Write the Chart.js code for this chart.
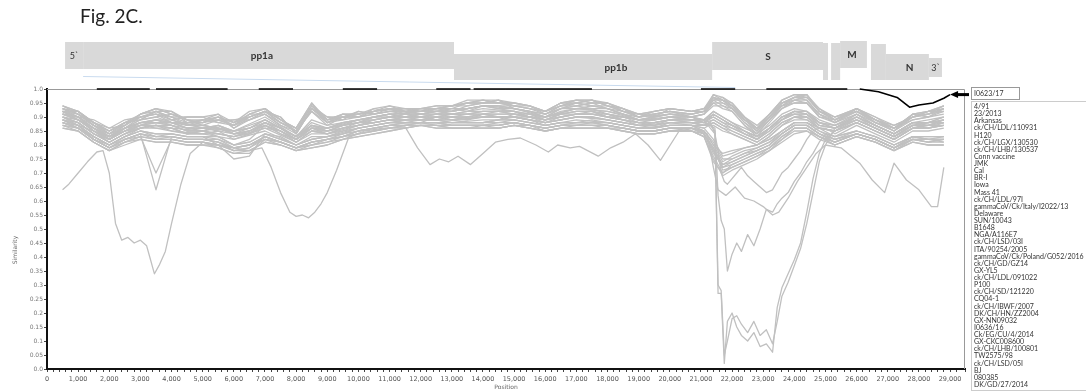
<!DOCTYPE html>
<html>
<head>
<meta charset="utf-8">
<script src="https://cdn.jsdelivr.net/npm/chart.js@4.4.0/dist/chart.umd.min.js"></script>
<style>
  body { margin: 0; background: #fff; overflow: hidden; }
  #wrap { position: relative; width: 1086px; height: 392px; overflow: hidden; }
  #plot { position: absolute; left: 0; top: 0; }
  #fig { position: absolute; left: 80px; top: 6px; font: 19px/19px Lato, sans-serif; color: #222; }
  .key { position: absolute; box-sizing: border-box; font: 7px Lato, sans-serif; color: #333; white-space: nowrap; }
  #refKey { left: 971px; top: 87px; width: 49px; height: 13px; line-height: 11px; padding-left: 2px; border: 1px solid #999; }
  #nameKey { left: 971px; top: 101px; width: 140px; height: 290px; padding: 1px 0 0 2px; line-height: 7.13px; border: 1px solid #ccc; }
</style>
</head>
<body>
<div id="wrap">
  <canvas id="plot" width="1086" height="392"></canvas>
  <div id="fig">Fig. 2C.</div>
  <div id="refKey" class="key">I0623/17</div>
  <div id="nameKey" class="key"></div>
</div>
<script>
// query strain (drawn in black)
const refName = 'I0623/17';
const refPos = [1600, 3300, 3400, 3500, 5800, 6300, 6800, 7900, 8700, 9500, 10600, 11500, 12500, 13600, 13650, 13700, 17500, 19000, 21000, 22100, 22600, 23100, 25700, 25900, 26100, 26700, 27300, 27700, 28000, 28450, 28800, 29000];
const refSim = [1, 1, null, 1, 1, null, 1, 1, null, 1, 1, null, 1, 1, null, 1, 1, null, 1, 1, null, 1, 1, null, 1, 0.99, 0.97, 0.935, 0.943, 0.95, 0.967, 0.98];

// reference strains, in the order of the key
const strainNames = ['4/91', '23/2013', 'Arkansas', 'ck/CH/LDL/110931', 'H120', 'ck/CH/LGX/130530', 'ck/CH/LHB/130537',
  'Conn vaccine', 'JMK', 'Cal', 'BR-I', 'Iowa', 'Mass 41', 'ck/CH/LDL/97I', 'gammaCoV/Ck/Italy/I2022/13', 'Delaware',
  'SUN/10043', 'B1648', 'NGA/A116E7', 'ck/CH/LSD/03I', 'ITA/90254/2005', 'gammaCoV/Ck/Poland/G052/2016', 'ck/CH/GD/GZ14',
  'GX-YL5', 'ck/CH/LDL/091022', 'P100', 'ck/CH/SD/121220', 'CQ04-1', 'ck/CH/IBWF/2007', 'DK/CH/HN/ZZ2004', 'GX-NN09032',
  'I0636/16', 'Ck/EG/CU/4/2014', 'GX-CKC008600', 'ck/CH/LHB/100801', 'TW2575/98', 'ck/CH/LSD/05I', 'BJ', '080385', 'DK/GD/27/2014'];

// window positions shared by most strains
const bandPos = [500, 1000, 1500, 2000, 2500, 3000, 3500, 4000,
  4500, 5000, 5500, 6000, 6500, 7000, 7500, 8000, 8500, 9000, 9500,
  10000, 10500, 11000, 11500, 12000, 12500, 13000, 13500, 14000, 14500, 15000, 15500, 16000, 16500, 17000, 17500, 18000, 18500, 19000, 19500, 20000, 20700,
  21100, 21400, 21700, 22000, 22400, 22800, 23200, 23600, 24000, 24400, 24800,
  25300, 26000, 26600, 27200, 27800, 28300, 28800];

const upperRows = [
  [0.93,0.91,0.88,0.85,0.88,0.90,0.92,0.90, 0.88,0.89,0.90,0.88,0.90,0.92,0.88,0.85,0.94,0.89,0.90, 0.91,0.92,0.93,0.92,0.92,0.93,0.92,0.94,0.95,0.95,0.94,0.93,0.92,0.95,0.95,0.96,0.94,0.92,0.90,0.91,0.92,0.91, 0.92,0.97,0.96,0.94,0.89,0.85,0.90,0.95,0.97,0.98,0.92, 0.89,0.93,0.89,0.86,0.90,0.91,0.93],
  [0.94,0.92,0.87,0.84,0.87,0.91,0.93,0.91, 0.89,0.88,0.89,0.87,0.91,0.93,0.89,0.86,0.95,0.88,0.91, 0.90,0.93,0.92,0.93,0.93,0.94,0.94,0.96,0.96,0.95,0.95,0.94,0.91,0.94,0.96,0.95,0.95,0.93,0.91,0.90,0.93,0.92, 0.93,0.98,0.97,0.95,0.90,0.86,0.91,0.96,0.98,0.97,0.93, 0.90,0.92,0.88,0.85,0.91,0.92,0.94],
  [0.92,0.90,0.89,0.86,0.89,0.90,0.91,0.89, 0.90,0.90,0.88,0.89,0.89,0.91,0.87,0.84,0.93,0.90,0.89, 0.92,0.91,0.93,0.91,0.92,0.93,0.93,0.92,0.94,0.94,0.93,0.92,0.90,0.93,0.94,0.93,0.93,0.91,0.89,0.90,0.91,0.90, 0.91,0.95,0.95,0.93,0.88,0.84,0.89,0.94,0.96,0.96,0.91, 0.88,0.93,0.90,0.86,0.89,0.90,0.92],
  [0.93,0.92,0.88,0.84,0.86,0.89,0.92,0.92, 0.88,0.89,0.91,0.86,0.90,0.92,0.89,0.85,0.92,0.87,0.90, 0.91,0.93,0.94,0.92,0.91,0.92,0.93,0.95,0.95,0.96,0.93,0.92,0.91,0.93,0.95,0.94,0.94,0.92,0.90,0.91,0.92,0.91, 0.92,0.96,0.94,0.92,0.87,0.83,0.88,0.93,0.95,0.95,0.90, 0.89,0.92,0.89,0.85,0.90,0.91,0.92],
  [0.92,0.91,0.87,0.83,0.87,0.90,0.91,0.90, 0.87,0.88,0.90,0.88,0.91,0.91,0.88,0.86,0.94,0.88,0.90, 0.90,0.91,0.92,0.92,0.93,0.92,0.92,0.93,0.94,0.94,0.94,0.93,0.92,0.94,0.94,0.95,0.93,0.92,0.91,0.92,0.93,0.92, 0.93,0.97,0.96,0.93,0.89,0.86,0.91,0.95,0.96,0.97,0.92, 0.89,0.93,0.88,0.86,0.91,0.90,0.93],
  [0.94,0.91,0.88,0.85,0.88,0.91,0.93,0.91, 0.89,0.87,0.89,0.87,0.90,0.92,0.90,0.84,0.93,0.89,0.91, 0.91,0.92,0.93,0.93,0.92,0.93,0.94,0.94,0.95,0.95,0.95,0.94,0.92,0.95,0.96,0.96,0.94,0.93,0.90,0.91,0.92,0.90, 0.91,0.96,0.97,0.94,0.90,0.85,0.90,0.94,0.97,0.96,0.91, 0.88,0.92,0.89,0.87,0.90,0.92,0.93],
  [0.93,0.90,0.86,0.84,0.88,0.89,0.92,0.89, 0.87,0.89,0.88,0.87,0.89,0.91,0.87,0.85,0.92,0.88,0.89, 0.90,0.91,0.92,0.91,0.91,0.92,0.92,0.93,0.94,0.94,0.93,0.92,0.91,0.94,0.95,0.94,0.93,0.91,0.89,0.90,0.91,0.91, 0.92,0.95,0.93,0.92,0.87,0.84,0.89,0.93,0.96,0.95,0.90, 0.88,0.91,0.88,0.85,0.89,0.90,0.91],
  [0.92,0.92,0.88,0.86,0.87,0.91,0.92,0.90, 0.90,0.90,0.91,0.88,0.92,0.93,0.89,0.86,0.94,0.90,0.90, 0.91,0.92,0.93,0.93,0.93,0.93,0.94,0.95,0.95,0.96,0.94,0.93,0.91,0.93,0.94,0.95,0.95,0.92,0.91,0.91,0.92,0.91, 0.92,0.97,0.95,0.94,0.89,0.86,0.90,0.95,0.97,0.97,0.92, 0.90,0.93,0.89,0.86,0.90,0.91,0.94],
  [0.93,0.91,0.87,0.84,0.86,0.90,0.91,0.88, 0.88,0.88,0.90,0.86,0.89,0.92,0.88,0.85,0.93,0.88,0.90, 0.90,0.92,0.93,0.92,0.93,0.94,0.94,0.95,0.96,0.95,0.94,0.94,0.92,0.94,0.95,0.96,0.94,0.93,0.90,0.92,0.93,0.92, 0.93,0.96,0.96,0.95,0.90,0.87,0.91,0.96,0.98,0.98,0.93, 0.89,0.92,0.88,0.86,0.91,0.91,0.93],
  [0.91,0.90,0.87,0.85,0.88,0.89,0.90,0.91, 0.89,0.89,0.89,0.89,0.90,0.92,0.90,0.84,0.93,0.89,0.90, 0.92,0.91,0.92,0.92,0.91,0.92,0.93,0.93,0.94,0.93,0.93,0.92,0.90,0.93,0.93,0.94,0.93,0.91,0.89,0.90,0.91,0.90, 0.91,0.94,0.94,0.93,0.88,0.85,0.89,0.94,0.95,0.95,0.91, 0.89,0.93,0.90,0.87,0.90,0.92,0.92],
  [0.94,0.92,0.88,0.85,0.87,0.91,0.93,0.92, 0.89,0.88,0.90,0.87,0.91,0.93,0.89,0.86,0.95,0.89,0.91, 0.91,0.92,0.94,0.93,0.92,0.93,0.94,0.95,0.96,0.96,0.95,0.94,0.92,0.95,0.96,0.96,0.95,0.93,0.91,0.92,0.93,0.92, 0.92,0.98,0.96,0.94,0.89,0.86,0.90,0.95,0.97,0.98,0.92, 0.90,0.93,0.89,0.86,0.91,0.92,0.94]
];

const middleRows = [
  [0.91,0.89,0.85,0.82,0.85,0.87,0.88,0.87, 0.85,0.86,0.85,0.84,0.84,0.88,0.85,0.82,0.86,0.85,0.87, 0.88,0.89,0.90,0.89,0.90,0.91,0.90,0.90,0.91,0.91,0.91,0.90,0.89,0.90,0.91,0.92,0.90,0.89,0.88,0.88,0.89,0.89, 0.88,0.90,0.88,0.86,0.84,0.82,0.85,0.89,0.91,0.91,0.87, 0.86,0.89,0.86,0.83,0.87,0.87,0.88],
  [0.90,0.88,0.84,0.81,0.84,0.86,0.87,0.86, 0.84,0.85,0.84,0.83,0.85,0.87,0.84,0.81,0.85,0.84,0.86, 0.87,0.88,0.89,0.89,0.89,0.90,0.89,0.89,0.90,0.90,0.90,0.89,0.88,0.89,0.90,0.90,0.89,0.88,0.87,0.87,0.88,0.88, 0.87,0.89,0.87,0.85,0.83,0.81,0.84,0.88,0.90,0.90,0.86, 0.85,0.88,0.85,0.82,0.86,0.86,0.87],
  [0.92,0.90,0.86,0.83,0.86,0.88,0.89,0.88, 0.86,0.87,0.86,0.85,0.86,0.89,0.86,0.83,0.87,0.86,0.88, 0.89,0.90,0.91,0.90,0.91,0.91,0.92,0.93,0.94,0.93,0.92,0.90,0.90,0.92,0.93,0.93,0.91,0.90,0.89,0.89,0.90,0.89, 0.89,0.92,0.90,0.88,0.86,0.84,0.87,0.91,0.93,0.92,0.89, 0.87,0.91,0.87,0.84,0.88,0.88,0.90],
  [0.90,0.87,0.85,0.82,0.85,0.86,0.87,0.85, 0.84,0.84,0.85,0.82,0.84,0.86,0.85,0.82,0.86,0.84,0.86, 0.87,0.89,0.90,0.90,0.89,0.90,0.90,0.89,0.91,0.91,0.91,0.90,0.89,0.90,0.91,0.91,0.90,0.89,0.88,0.87,0.89,0.88, 0.87,0.88,0.86,0.84,0.82,0.80,0.83,0.87,0.89,0.89,0.86, 0.85,0.89,0.86,0.83,0.87,0.86,0.88],
  [0.91,0.90,0.85,0.81,0.84,0.87,0.88,0.88, 0.86,0.86,0.86,0.84,0.85,0.88,0.85,0.82,0.87,0.85,0.87, 0.88,0.89,0.90,0.90,0.90,0.89,0.90,0.91,0.91,0.90,0.90,0.89,0.88,0.90,0.91,0.91,0.90,0.89,0.87,0.88,0.89,0.89, 0.88,0.91,0.89,0.87,0.85,0.82,0.86,0.90,0.92,0.91,0.88, 0.86,0.90,0.86,0.83,0.87,0.87,0.89],
  [0.92,0.89,0.86,0.82,0.85,0.88,0.88,0.87, 0.85,0.85,0.87,0.84,0.86,0.89,0.86,0.83,0.86,0.86,0.87, 0.88,0.90,0.91,0.90,0.90,0.91,0.91,0.92,0.92,0.92,0.91,0.90,0.89,0.91,0.92,0.92,0.91,0.90,0.88,0.89,0.90,0.89, 0.89,0.92,0.90,0.88,0.85,0.83,0.86,0.90,0.92,0.92,0.88, 0.87,0.90,0.87,0.84,0.88,0.88,0.89],
  [0.90,0.88,0.84,0.82,0.86,0.87,0.86,0.86, 0.84,0.85,0.83,0.80,0.82,0.87,0.84,0.82,0.85,0.85,0.86, 0.87,0.88,0.89,0.88,0.88,0.90,0.89,0.88,0.88,0.89,0.91,0.90,0.88,0.89,0.90,0.90,0.89,0.88,0.87,0.87,0.88,0.88, 0.87,0.87,0.85,0.84,0.82,0.80,0.83,0.87,0.90,0.90,0.86, 0.85,0.88,0.85,0.82,0.86,0.87,0.87],
  [0.91,0.89,0.85,0.83,0.85,0.87,0.89,0.87, 0.86,0.86,0.87,0.85,0.86,0.88,0.86,0.83,0.87,0.85,0.87, 0.88,0.90,0.90,0.91,0.90,0.90,0.91,0.91,0.91,0.92,0.92,0.90,0.89,0.91,0.91,0.91,0.91,0.89,0.88,0.88,0.89,0.89, 0.88,0.91,0.89,0.87,0.84,0.82,0.86,0.89,0.92,0.91,0.87, 0.86,0.89,0.86,0.83,0.87,0.88,0.88],
  [0.89,0.88,0.84,0.81,0.84,0.86,0.87,0.86, 0.84,0.84,0.84,0.83,0.84,0.87,0.85,0.81,0.85,0.84,0.85, 0.87,0.88,0.89,0.89,0.89,0.89,0.89,0.90,0.90,0.90,0.90,0.89,0.88,0.89,0.90,0.90,0.89,0.88,0.87,0.86,0.88,0.87, 0.86,0.88,0.86,0.85,0.83,0.81,0.84,0.88,0.90,0.89,0.86, 0.85,0.88,0.85,0.82,0.86,0.86,0.87],
  [0.91,0.90,0.86,0.82,0.86,0.88,0.88,0.88, 0.87,0.87,0.86,0.84,0.85,0.88,0.86,0.82,0.86,0.86,0.87, 0.89,0.89,0.90,0.91,0.90,0.91,0.91,0.91,0.92,0.92,0.91,0.91,0.90,0.91,0.92,0.92,0.90,0.90,0.89,0.89,0.90,0.89, 0.89,0.91,0.89,0.87,0.85,0.83,0.86,0.90,0.92,0.92,0.88, 0.86,0.90,0.87,0.84,0.87,0.88,0.89],
  [0.90,0.89,0.85,0.82,0.85,0.87,0.87,0.87, 0.85,0.85,0.86,0.84,0.85,0.87,0.85,0.82,0.86,0.85,0.86, 0.88,0.88,0.89,0.90,0.90,0.90,0.90,0.90,0.91,0.90,0.90,0.90,0.89,0.90,0.91,0.91,0.90,0.89,0.88,0.88,0.89,0.88, 0.88,0.89,0.87,0.86,0.84,0.82,0.85,0.89,0.91,0.90,0.87, 0.86,0.89,0.86,0.83,0.86,0.87,0.88],
  [0.92,0.89,0.85,0.83,0.86,0.88,0.89,0.88, 0.86,0.86,0.87,0.85,0.86,0.89,0.86,0.83,0.87,0.86,0.88, 0.89,0.90,0.91,0.90,0.91,0.92,0.91,0.91,0.92,0.92,0.92,0.91,0.89,0.91,0.92,0.92,0.91,0.90,0.89,0.89,0.90,0.90, 0.89,0.90,0.88,0.87,0.85,0.83,0.86,0.90,0.91,0.91,0.88, 0.87,0.90,0.87,0.84,0.88,0.87,0.89]
];

const lowerRows = [
  [0.88,0.86,0.82,0.79,0.82,0.84,0.64,0.83, 0.82,0.82,0.81,0.79,0.80,0.83,0.81,0.79,0.81,0.82,0.83, 0.85,0.86,0.87,0.87,0.88,0.88,0.87,0.87,0.87,0.87,0.88,0.87,0.86,0.87,0.87,0.87,0.87,0.86,0.85,0.85,0.86,0.86, 0.84,0.78,0.72,0.74,0.76,0.78,0.80,0.84,0.87,0.87,0.84, 0.81,0.84,0.82,0.79,0.83,0.82,0.82],
  [0.87,0.85,0.81,0.78,0.81,0.83,0.70,0.82, 0.81,0.81,0.80,0.78,0.79,0.82,0.80,0.78,0.80,0.81,0.82, 0.84,0.85,0.86,0.87,0.87,0.87,0.86,0.86,0.86,0.86,0.87,0.86,0.85,0.86,0.86,0.86,0.86,0.85,0.84,0.84,0.85,0.85, 0.83,0.76,0.70,0.73,0.75,0.77,0.79,0.83,0.86,0.86,0.83, 0.80,0.83,0.81,0.78,0.82,0.81,0.81],
  [0.89,0.86,0.83,0.80,0.83,0.85,0.83,0.84, 0.83,0.83,0.80,0.75,0.76,0.84,0.82,0.80,0.82,0.83,0.84, 0.86,0.87,0.88,0.88,0.88,0.88,0.88,0.88,0.88,0.89,0.89,0.88,0.87,0.88,0.88,0.88,0.88,0.87,0.86,0.86,0.87,0.87, 0.85,0.80,0.74,0.76,0.78,0.79,0.81,0.85,0.88,0.88,0.85, 0.82,0.85,0.83,0.80,0.83,0.82,0.83],
  [0.88,0.87,0.82,0.79,0.82,0.84,0.82,0.83, 0.82,0.82,0.81,0.78,0.79,0.83,0.81,0.79,0.81,0.82,0.83, 0.85,0.86,0.87,0.87,0.87,0.87,0.87,0.87,0.87,0.87,0.88,0.87,0.86,0.87,0.87,0.88,0.87,0.86,0.85,0.85,0.86,0.86, 0.84,0.79,0.71,0.72,0.74,0.76,0.79,0.82,0.86,0.86,0.83, 0.81,0.84,0.82,0.79,0.82,0.81,0.82],
  [0.86,0.85,0.81,0.78,0.80,0.82,0.81,0.81, 0.80,0.80,0.79,0.77,0.78,0.81,0.80,0.78,0.79,0.80,0.82, 0.83,0.84,0.85,0.86,0.87,0.86,0.86,0.86,0.86,0.86,0.87,0.86,0.85,0.86,0.86,0.86,0.86,0.85,0.84,0.84,0.85,0.85, 0.83,0.75,0.69,0.71,0.73,0.75,0.78,0.81,0.84,0.85,0.82, 0.80,0.83,0.81,0.78,0.81,0.80,0.80],
  [0.89,0.87,0.83,0.80,0.83,0.85,0.84,0.84, 0.83,0.83,0.83,0.80,0.81,0.84,0.83,0.80,0.82,0.83,0.85, 0.86,0.87,0.88,0.89,0.89,0.89,0.88,0.88,0.88,0.89,0.90,0.89,0.87,0.88,0.88,0.88,0.88,0.87,0.86,0.86,0.87,0.87, 0.86,0.82,0.76,0.77,0.79,0.80,0.82,0.85,0.88,0.88,0.86, 0.83,0.85,0.83,0.80,0.83,0.83,0.83],
  [0.87,0.86,0.82,0.79,0.81,0.83,0.82,0.82, 0.81,0.81,0.80,0.79,0.80,0.82,0.81,0.79,0.80,0.82,0.83, 0.84,0.85,0.86,0.87,0.88,0.88,0.87,0.87,0.87,0.87,0.88,0.87,0.86,0.87,0.87,0.87,0.87,0.86,0.85,0.85,0.86,0.86, 0.84,0.77,0.73,0.75,0.77,0.78,0.80,0.84,0.87,0.87,0.84, 0.81,0.84,0.82,0.79,0.82,0.82,0.81],
  [0.88,0.86,0.82,0.80,0.82,0.84,0.83,0.83, 0.82,0.82,0.82,0.79,0.80,0.83,0.81,0.79,0.81,0.82,0.84, 0.85,0.86,0.87,0.88,0.88,0.87,0.87,0.87,0.87,0.88,0.88,0.87,0.86,0.87,0.87,0.87,0.87,0.86,0.85,0.85,0.86,0.86, 0.85,0.81,0.75,0.75,0.77,0.79,0.81,0.84,0.87,0.87,0.84, 0.82,0.84,0.82,0.79,0.83,0.82,0.82],
  [0.86,0.85,0.81,0.78,0.81,0.82,0.81,0.81, 0.80,0.80,0.80,0.78,0.78,0.81,0.80,0.78,0.79,0.80,0.82, 0.83,0.84,0.85,0.86,0.87,0.86,0.86,0.86,0.86,0.86,0.87,0.86,0.85,0.86,0.86,0.86,0.86,0.85,0.84,0.84,0.85,0.85, 0.83,0.74,0.70,0.72,0.74,0.76,0.78,0.82,0.85,0.85,0.83, 0.80,0.83,0.81,0.78,0.81,0.80,0.80],
  [0.89,0.87,0.83,0.80,0.83,0.85,0.84,0.84, 0.83,0.83,0.82,0.80,0.81,0.84,0.82,0.80,0.82,0.83,0.84, 0.86,0.87,0.88,0.88,0.89,0.89,0.88,0.88,0.88,0.88,0.89,0.88,0.87,0.88,0.88,0.89,0.88,0.87,0.86,0.86,0.87,0.87, 0.85,0.80,0.77,0.78,0.79,0.80,0.82,0.85,0.88,0.88,0.85, 0.83,0.85,0.83,0.80,0.83,0.83,0.83],
  [0.87,0.86,0.82,0.79,0.82,0.83,0.82,0.82, 0.81,0.81,0.79,0.77,0.77,0.82,0.81,0.79,0.80,0.81,0.83, 0.84,0.85,0.86,0.86,0.87,0.87,0.86,0.86,0.87,0.86,0.87,0.87,0.85,0.86,0.87,0.87,0.86,0.86,0.85,0.85,0.86,0.85, 0.84,0.78,0.72,0.73,0.75,0.77,0.79,0.83,0.86,0.86,0.83, 0.81,0.84,0.82,0.79,0.82,0.81,0.82],
  [0.88,0.86,0.82,0.79,0.82,0.84,0.83,0.83, 0.82,0.82,0.81,0.79,0.80,0.83,0.81,0.79,0.81,0.82,0.83, 0.85,0.86,0.87,0.88,0.88,0.88,0.87,0.87,0.87,0.87,0.88,0.87,0.86,0.87,0.88,0.88,0.87,0.86,0.85,0.85,0.86,0.86, 0.84,0.79,0.73,0.74,0.76,0.78,0.80,0.84,0.87,0.87,0.84, 0.82,0.84,0.82,0.79,0.82,0.82,0.82]
];

// the most divergent strain, sampled more finely
const outlierPos = [500, 700, 1000, 1300, 1600, 1800, 2000, 2200, 2400, 2600, 2800, 3000, 3200, 3300, 3450, 3600, 3800, 4000, 4300, 4600,
  5000, 5500, 6000, 6500, 6900, 7200, 7500, 7800, 8000, 8200, 8400, 8600, 8800, 9000, 9300, 9700, 10200, 10800, 11500, 11900,
  12300, 12600, 12900, 13200, 13600, 14000, 14400, 14800, 15200, 15700, 16100, 16400, 16800, 17100, 17700, 18100, 18500, 18900, 19300, 19700,
  20300, 20800, 21200, 21400, 21550, 21800, 22100, 22400, 22700, 23000, 23300, 23500, 23800, 24100, 24400, 24700, 25000, 25500, 26100, 26500,
  26900, 27200, 27600, 28000, 28400, 28600, 28800];
const outlierSim = [0.64, 0.66, 0.70, 0.74, 0.775, 0.78, 0.70, 0.52, 0.46, 0.47, 0.45, 0.46, 0.44, 0.40, 0.34, 0.37, 0.42, 0.52, 0.66, 0.77,
  0.81, 0.80, 0.79, 0.78, 0.79, 0.72, 0.63, 0.56, 0.545, 0.55, 0.54, 0.56, 0.59, 0.63, 0.71, 0.83, 0.85, 0.86, 0.865, 0.79,
  0.73, 0.75, 0.74, 0.76, 0.73, 0.77, 0.81, 0.82, 0.825, 0.80, 0.775, 0.80, 0.79, 0.795, 0.76, 0.79, 0.81, 0.84, 0.80, 0.745,
  0.85, 0.86, 0.84, 0.72, 0.64, 0.62, 0.65, 0.61, 0.60, 0.58, 0.55, 0.56, 0.61, 0.67, 0.72, 0.77, 0.80, 0.79, 0.735, 0.675,
  0.63, 0.735, 0.675, 0.64, 0.58, 0.58, 0.72];

// strains that break away across the S gene
const spikePos = [500, 1000, 1500, 2000, 2500, 3000, 3500, 4000, 5000, 6000, 7000, 8000, 8500, 9000,
  10000, 11000, 12000, 13000, 14000, 15000, 16000, 17000, 18000, 19000, 20000, 20700, 21100,
  21300, 21450, 21550, 21650, 21750, 21850, 22000, 22150, 22300, 22500, 22700, 22900, 23100, 23300, 23450, 23600, 23800, 24000, 24200, 24400, 24600, 24800, 25000,
  25300, 26000, 26600, 27200, 27800, 28300, 28800];
const spikeSimA = [0.90,0.88,0.84,0.81,0.84,0.86,0.87,0.86, 0.85,0.83,0.86,0.81,0.84,0.84, 0.87,0.89,0.89,0.89,0.90,0.90,0.88,0.90,0.89,0.87,0.88,0.88,0.87,
  0.88,0.84,0.78,0.70,0.67,0.66,0.68,0.70,0.72,0.69,0.67,0.65,0.63,0.64,0.67,0.70,0.72,0.75,0.78,0.82,0.85,0.86,0.86,
  0.84,0.88,0.85,0.82,0.86,0.86,0.87];
const spikeSimB = [0.89,0.87,0.83,0.80,0.83,0.86,0.86,0.85, 0.84,0.82,0.85,0.80,0.83,0.83, 0.86,0.88,0.88,0.88,0.89,0.89,0.87,0.89,0.88,0.86,0.87,0.87,0.87,
  0.87,0.86,0.62,0.53,0.50,0.35,0.41,0.45,0.42,0.48,0.44,0.50,0.57,0.56,0.59,0.61,0.63,0.67,0.70,0.74,0.77,0.81,0.84,
  0.83,0.87,0.84,0.81,0.85,0.85,0.86];
const spikeSimC = [0.91,0.89,0.86,0.83,0.86,0.89,0.90,0.88, 0.87,0.85,0.90,0.83,0.88,0.86, 0.89,0.91,0.91,0.91,0.93,0.92,0.90,0.93,0.92,0.89,0.90,0.90,0.88,
  0.87,0.85,0.27,0.27,0.02,0.17,0.20,0.15,0.12,0.10,0.13,0.08,0.09,0.06,0.22,0.29,0.34,0.39,0.45,0.56,0.68,0.77,0.82,
  0.85,0.90,0.87,0.84,0.88,0.89,0.90];
const spikeSimD = [0.92,0.90,0.86,0.83,0.85,0.88,0.89,0.89, 0.86,0.85,0.89,0.83,0.89,0.87, 0.89,0.91,0.92,0.92,0.94,0.93,0.90,0.93,0.92,0.90,0.91,0.90,0.89,
  0.86,0.84,0.30,0.28,0.05,0.10,0.18,0.19,0.16,0.13,0.17,0.12,0.14,0.09,0.17,0.26,0.31,0.37,0.43,0.52,0.63,0.74,0.80,
  0.86,0.91,0.87,0.84,0.88,0.88,0.90];

// genome map above the plot (nt)
const geneNames = ['5`', 'pp1a', 'pp1b', 'S', '', '', 'M', '', 'N', '3`'];
const geneStart = [580, 1160, 13070, 21360, 24920, 25180, 25470, 26460, 26940, 28320];
const geneEnd = [1160, 13070, 21360, 24920, 25080, 25470, 26330, 26940, 28320, 28740];
const geneLabelAt = [870, 6900, 18270, 23150, null, null, 25850, null, 27700, 28540];

const grey = '#c0c0c0';
const toPoints = (pos, sim) => pos.map((x, i) => ({ x: x, y: sim[i] }));

const datasets = [{
  label: refName,
  data: toPoints(refPos, refSim),
  borderColor: '#000',
  borderWidth: 1.6,
  spanGaps: false,
  clip: false
}];
const greyRows = [...upperRows, ...middleRows, ...lowerRows];
greyRows.forEach(row => datasets.push({ data: toPoints(bandPos, row), borderColor: grey, borderWidth: 1.3 }));
datasets.push({ data: toPoints(outlierPos, outlierSim), borderColor: grey, borderWidth: 1.3 });
[spikeSimA, spikeSimB, spikeSimC, spikeSimD].forEach(sim => {
  datasets.push({ data: toPoints(spikePos, sim), borderColor: grey, borderWidth: 1.3 });
});

// vertical extent of each box in the genome map
const geneBox = [[42, 69], [42, 69], [54, 80], [42, 70], [43, 80], [43, 80], [41, 68], [44, 80], [54, 80], [58, 77]];

const decorations = {
  id: 'decorations',
  beforeDatasetsDraw(chart) {
    const { ctx, chartArea: a } = chart;
    ctx.save();
    ctx.strokeStyle = '#999';
    ctx.lineWidth = 1;
    ctx.beginPath();
    ctx.moveTo(a.left, a.top + 0.5);
    ctx.lineTo(a.right - 0.5, a.top + 0.5);
    ctx.lineTo(a.right - 0.5, a.bottom);
    ctx.stroke();
    ctx.restore();
  },
  afterDatasetsDraw(chart) {
    const { ctx, chartArea: a, scales: { x } } = chart;
    ctx.save();

    // genome map
    geneNames.forEach((name, i) => {
      const x0 = x.getPixelForValue(geneStart[i]);
      const x1 = x.getPixelForValue(geneEnd[i]);
      const [y0, y1] = geneBox[i];
      ctx.fillStyle = '#d9d9d9';
      ctx.fillRect(x0, y0, x1 - x0, y1 - y0);
      if (name) {
        const bold = name.indexOf('`') < 0;
        ctx.font = (bold ? 'bold 10px' : '9px') + ' Lato, sans-serif';
        ctx.fillStyle = '#333';
        ctx.textAlign = 'center';
        ctx.textBaseline = 'middle';
        ctx.fillText(name, x.getPixelForValue(geneLabelAt[i]), (y0 + y1) / 2 + 0.5);
      }
    });

    // faint guide line under the map
    ctx.strokeStyle = '#c9dbef';
    ctx.lineWidth = 1;
    ctx.beginPath();
    ctx.moveTo(x.getPixelForValue(1160), 76.5);
    ctx.lineTo(x.getPixelForValue(22100), 87.5);
    ctx.stroke();

    // pointer from the query line to its key
    const meta = chart.getDatasetMeta(0);
    const tip = meta.data[meta.data.length - 1];
    ctx.fillStyle = '#000';
    ctx.fillRect(tip.x + 6, tip.y - 1.5, a.right + 4 - tip.x - 6, 3);
    ctx.beginPath();
    ctx.moveTo(tip.x, tip.y);
    ctx.lineTo(tip.x + 8, tip.y - 3.5);
    ctx.lineTo(tip.x + 8, tip.y + 3.5);
    ctx.closePath();
    ctx.fill();

    // axis titles
    ctx.fillStyle = '#666';
    ctx.font = '6px "DejaVu Sans", sans-serif';
    ctx.textAlign = 'center';
    ctx.textBaseline = 'middle';
    ctx.fillText('Position', (a.left + a.right) / 2, 387);
    ctx.translate(15, 250);
    ctx.rotate(-Math.PI / 2);
    ctx.fillText('Similarity', 0, 0);
    ctx.restore();
  }
};

document.getElementById('nameKey').innerHTML = strainNames.map(n => '<div>' + n + '</div>').join('');

new Chart(document.getElementById('plot'), {
  type: 'line',
  data: { datasets: datasets },
  options: {
    responsive: false,
    animation: false,
    devicePixelRatio: 1,
    layout: { padding: { top: 89, right: 121, left: 0, bottom: 0 } },
    elements: { point: { radius: 0 }, line: { tension: 0, borderJoinStyle: 'round' } },
    plugins: { legend: { display: false }, tooltip: { enabled: false } },
    scales: {
      x: {
        type: 'linear',
        min: 0,
        max: 29480,
        afterFit: s => { s.height = 23; },
        ticks: {
          stepSize: 200,
          autoSkip: false,
          maxRotation: 0,
          padding: 3,
          color: '#555',
          font: { family: 'DejaVu Sans', size: 6.5 },
          callback: v => Math.round(v) % 1000 === 0 ? Math.round(v).toLocaleString('en-US') : ''
        },
        grid: { drawOnChartArea: false, tickLength: 3, tickColor: '#444' },
        border: { color: '#111', width: 2 }
      },
      y: {
        min: 0,
        max: 1,
        afterFit: s => { s.width = 47; },
        ticks: {
          stepSize: 0.05,
          padding: 1,
          color: '#777',
          font: { family: 'DejaVu Sans', size: 6 },
          callback: v => (v === 0 || v === 1) ? v.toFixed(1) : String(+v.toFixed(2))
        },
        grid: { drawOnChartArea: false, tickLength: 3, tickColor: '#444' },
        border: { color: '#111', width: 2 }
      }
    }
  },
  plugins: [decorations]
});
</script>
</body>
</html>
